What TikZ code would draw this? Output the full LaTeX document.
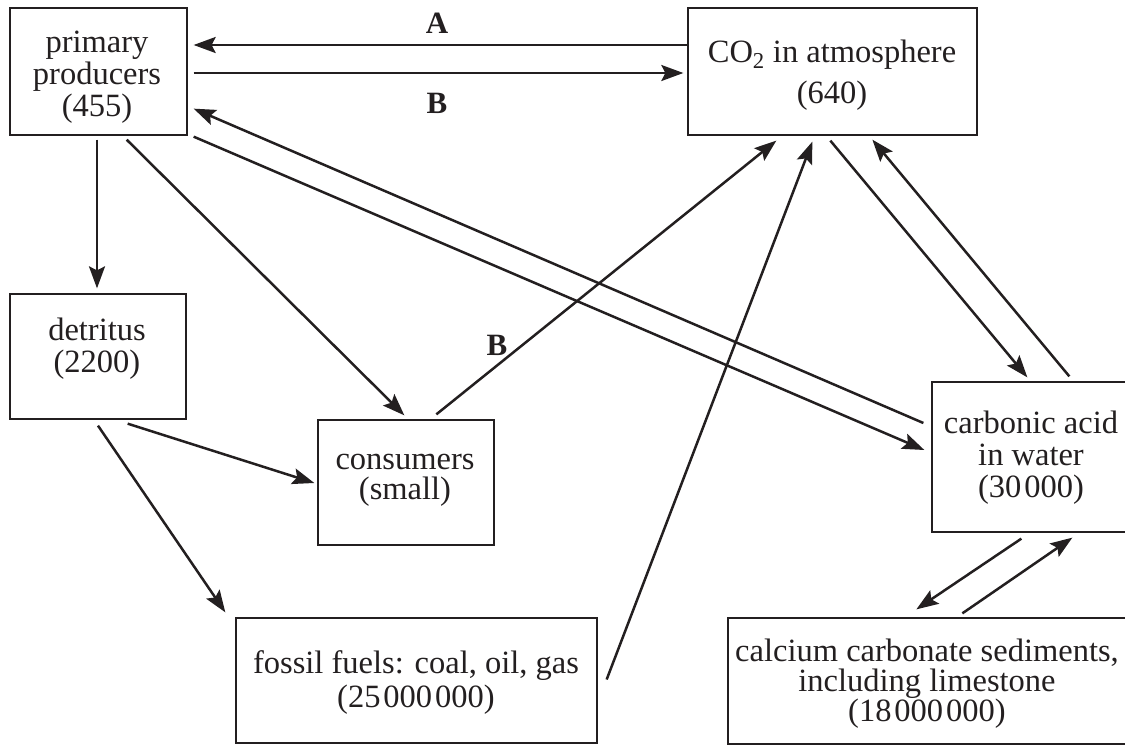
\documentclass[tikz,border=0pt]{standalone}
\usepackage{fontspec}
\setmainfont{Liberation Serif}
\usetikzlibrary{arrows.meta,calc}
\definecolor{ink}{HTML}{231F20}
\begin{document}
\begin{tikzpicture}[x=1pt,y=-1pt,
  box/.style={draw=ink, line width=1.3pt, inner sep=0pt},
  txt/.style={inner sep=0pt, align=center, text=ink, font=\fontsize{32.5}{#1}\selectfont},
  lab/.style={inner sep=0pt, text=ink, font=\fontsize{31}{31}\selectfont\bfseries},
  arr/.style={draw=ink, line width=2.5pt, -{Stealth[length=22pt,width=16pt,inset=4pt]}}]
\useasboundingbox (0,0) rectangle (1125,745);
% boxes
\node[box, minimum width=177pt, minimum height=127pt] (pp)  at (98.5,71.5) {};
\node[box, minimum width=289pt, minimum height=127pt] (co2) at (832.5,71.5) {};
\node[box, minimum width=176pt, minimum height=125pt] (det) at (98,356.5) {};
\node[box, minimum width=176pt, minimum height=125pt] (con) at (406,482.5) {};
\node[box, minimum width=361pt, minimum height=125pt] (fos) at (416.5,680.5) {};
\node[box, minimum width=203pt, minimum height=150pt] (car) at (1033.5,457) {};
\node[box, minimum width=407pt, minimum height=126pt] (cal) at (931.5,681) {};
% texts
\node[txt=32] (ppt)  at (97,77.5) {primary\\producers\\(455)};
\node[txt=41] (co2t) at (832,75) {CO\textsubscript{2} in atmosphere\\(640)};
\node[txt=32] (dett) at (97,348.5) {detritus\\(2200)};
\node[txt=30] (cont) at (405,480) {consumers\\(small)};
\node[txt=34] (fost) at (416,682.5) {fossil fuels: coal, oil, gas\\(25\kern3pt000\kern3pt000)};
\node[txt=32] (cart) at (1031,457.5) {carbonic acid\\in water\\(30\kern3pt000)};
\node[txt=29.5] (calt) at (927,684) {calcium carbonate sediments,\\including limestone\\(18\kern3pt000\kern3pt000)};
% labels
\node[lab] (lA)  at (437,23)  {A};
\node[lab] (lB1) at (437,103) {B};
\node[lab] (lB2) at (497,345) {B};
% connectors
\draw[arr] ($(co2.west)+(0,-26.5)$) -- ($(pp.east)+(6,-26.5)$);
\draw[arr] ($(pp.east)+(6,1.5)$) -- ($(co2.west)+(-4,1.5)$);
\draw[arr] ($(pp.south)+(-1.5,4)$) -- ($(det.north)+(-1,-5)$);
\draw[arr] ($(pp.south east)+(-61,4)$) -- ($(con.north west)+(87,-4)$);
\draw[arr] ($(pp.south east)+(6,1)$) -- ($(car.west)+(-7,-7)$);
\draw[arr] ($(car.west)+(-8,-34)$) -- ($(pp.south east)+(6,-27)$);
\draw[arr] ($(con.north west)+(119,-5)$) -- ($(co2.south west)+(89,5)$);
\draw[arr] ($(fos.east)+(9,-1)$) -- ($(co2.south west)+(125,6)$);
\draw[arr] ($(co2.south west)+(143,5)$) -- ($(car.north west)+(96,-4)$);
\draw[arr] ($(car.north west)+(138,-5)$) -- ($(co2.south west)+(185,4)$);
\draw[arr] ($(det.south east)+(-59,4)$) -- ($(con.west)+(-3,0.5)$);
\draw[arr] ($(det.south)+(0,6)$) -- ($(fos.north west)+(-10,-5)$);
\draw[arr] ($(car.south west)+(90,6)$) -- ($(cal.north west)+(189,-8)$);
\draw[arr] ($(cal.north west)+(235,-4)$) -- ($(car.south west)+(141,5)$);
\end{tikzpicture}
\end{document}
